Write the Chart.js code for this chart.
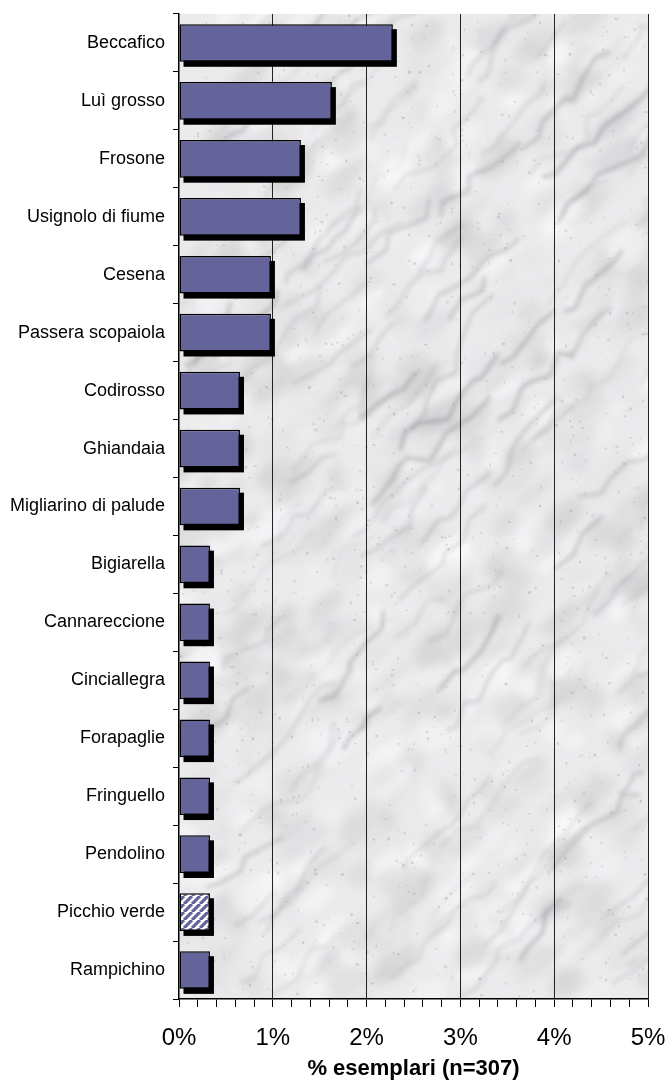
<!DOCTYPE html>
<html>
<head>
<meta charset="utf-8">
<script src="https://cdn.jsdelivr.net/npm/chart.js@4.4.0/dist/chart.umd.min.js"></script>
<style>
  html, body { margin: 0; padding: 0; background: #fff; }
  #wrap { width: 666px; height: 1081px; position: relative; }
</style>
</head>
<body>
<div id="wrap"><canvas id="chart"></canvas></div>
<script>
// dati
const categories = [
  'Beccafico', 'Luì grosso', 'Frosone', 'Usignolo di fiume', 'Cesena',
  'Passera scopaiola', 'Codirosso', 'Ghiandaia', 'Migliarino di palude',
  'Bigiarella', 'Cannareccione', 'Cinciallegra', 'Forapaglie', 'Fringuello',
  'Pendolino', 'Picchio verde', 'Rampichino'
];
const percentages = [
  2.28, 1.63, 1.30, 1.30, 0.98,
  0.98, 0.65, 0.65, 0.65,
  0.33, 0.33, 0.33, 0.33, 0.33,
  0.33, 0.33, 0.33
];
const hatchedCategory = 'Picchio verde';
const axisMax = 5;
const minorStep = 0.2;
const axisTitle = '% esemplari (n=307)';

const barColor = '#64649b';

// pattern a strisce per la barra tratteggiata
function makeHatch() {
  const c = document.createElement('canvas');
  c.width = 8; c.height = 8;
  const g = c.getContext('2d');
  g.fillStyle = '#fff';
  g.fillRect(0, 0, 8, 8);
  g.strokeStyle = barColor;
  g.lineWidth = 3.2;
  g.beginPath();
  for (let k = -8; k <= 16; k += 8) {
    g.moveTo(k, 8);
    g.lineTo(k + 8, 0);
  }
  g.stroke();
  return g.createPattern(c, 'repeat');
}

// sfondo "marmo" (solo decorazione)
let marbleCache = null;
function marble(w, h) {
  if (marbleCache && marbleCache.width === w && marbleCache.height === h) return marbleCache;
  const c = document.createElement('canvas');
  c.width = w; c.height = h;
  const g = c.getContext('2d');
  let seed = 98765;
  const rnd = () => { seed = (seed * 1103515245 + 12345) % 2147483648; return seed / 2147483648; };
  g.fillStyle = '#ebebed';
  g.fillRect(0, 0, w, h);
  g.filter = 'blur(5px)';
  for (let i = 0; i < 900; i++) {
    const v = 205 + Math.floor(rnd() * 50);
    g.fillStyle = 'rgba(' + v + ',' + v + ',' + (v + 2) + ',0.6)';
    g.beginPath();
    g.ellipse(rnd() * w, rnd() * h, 8 + rnd() * 20, 5 + rnd() * 10, -0.7, 0, Math.PI * 2);
    g.fill();
  }
  g.filter = 'blur(2px)';
  for (let i = 0; i < 130; i++) {
    let x = rnd() * w, y = rnd() * h;
    g.strokeStyle = 'rgba(115,115,120,' + (0.12 + rnd() * 0.25) + ')';
    g.lineWidth = 1 + rnd() * 3;
    g.beginPath();
    g.moveTo(x, y);
    const n = 3 + Math.floor(rnd() * 6);
    for (let j = 0; j < n; j++) {
      x += 6 + rnd() * 14;
      y -= 6 + rnd() * 14;
      g.lineTo(x + (rnd() - 0.5) * 12, y + (rnd() - 0.5) * 12);
    }
    g.stroke();
  }
  g.filter = 'blur(0.6px)';
  for (let i = 0; i < 1400; i++) {
    const v = 140 + Math.floor(rnd() * 70);
    g.fillStyle = 'rgba(' + v + ',' + v + ',' + v + ',0.35)';
    g.fillRect(rnd() * w, rnd() * h, 1 + rnd() * 2, 1 + rnd() * 2);
  }
  g.filter = 'none';
  marbleCache = c;
  return c;
}

const backgroundPlugin = {
  id: 'marbleBg',
  beforeDraw(chart) {
    const a = chart.chartArea;
    const img = marble(Math.ceil(a.right - a.left), Math.ceil(a.bottom - a.top));
    chart.ctx.drawImage(img, a.left, a.top);
  }
};

// ombra nera delle barre
const shadowPlugin = {
  id: 'barShadow',
  beforeDatasetsDraw(chart) {
    const ctx = chart.ctx;
    ctx.save();
    ctx.fillStyle = '#000';
    chart.getDatasetMeta(0).data.forEach(bar => {
      const p = bar.getProps(['x', 'y', 'base', 'height'], true);
      ctx.fillRect(p.base + 4, p.y - p.height / 2 + 5, p.x - p.base, p.height);
    });
    ctx.restore();
  }
};

const isMajor = v => Math.abs(v - Math.round(v)) < 1e-6;

const ctx = document.getElementById('chart');
const hatch = makeHatch();

new Chart(ctx, {
  type: 'bar',
  data: {
    labels: categories,
    datasets: [{
      data: percentages,
      backgroundColor: categories.map(c => c === hatchedCategory ? hatch : barColor),
      borderColor: '#000',
      borderWidth: 1.5,
      borderSkipped: false,
      barPercentage: 0.65,
      categoryPercentage: 1
    }]
  },
  options: {
    indexAxis: 'y',
    responsive: true,
    maintainAspectRatio: false,
    animation: false,
    layout: { padding: { top: 14, right: 18, left: 0, bottom: 0 } },
    plugins: {
      legend: { display: false },
      tooltip: { enabled: false }
    },
    scales: {
      x: {
        min: 0,
        max: axisMax,
        afterFit: s => { s.height = 82; s.paddingLeft = 0; s.paddingRight = 0; },
        ticks: {
          stepSize: minorStep,
          autoSkip: false,
          maxRotation: 0,
          padding: 17,
          color: '#000',
          font: { family: 'Liberation Sans, Arial', size: 24 },
          callback: v => isMajor(v) ? Math.round(v) + '%' : ''
        },
        grid: {
          color: c => (isMajor(c.tick.value) && c.tick.value > 0) ? '#222' : 'rgba(0,0,0,0)',
          tickColor: '#000',
          tickLength: 8,
          lineWidth: 1
        },
        border: { display: true, color: '#000', width: 1.5 },
        title: {
          display: true,
          text: axisTitle,
          color: '#000',
          padding: { top: 0, bottom: 0 },
          font: { family: 'Liberation Sans, Arial', size: 22, weight: 'bold', lineHeight: 1.1 }
        }
      },
      y: {
        afterFit: s => { s.width = 179; s.paddingTop = 0; s.paddingBottom = 0; },
        ticks: {
          padding: 8,
          color: '#000',
          font: { family: 'Liberation Sans, Arial', size: 18 }
        },
        grid: {
          offset: true,
          drawOnChartArea: false,
          color: '#000',
          tickLength: 6
        },
        border: { display: true, color: '#000', width: 1.5 }
      }
    }
  },
  plugins: [backgroundPlugin, shadowPlugin]
});
</script>
</body>
</html>
